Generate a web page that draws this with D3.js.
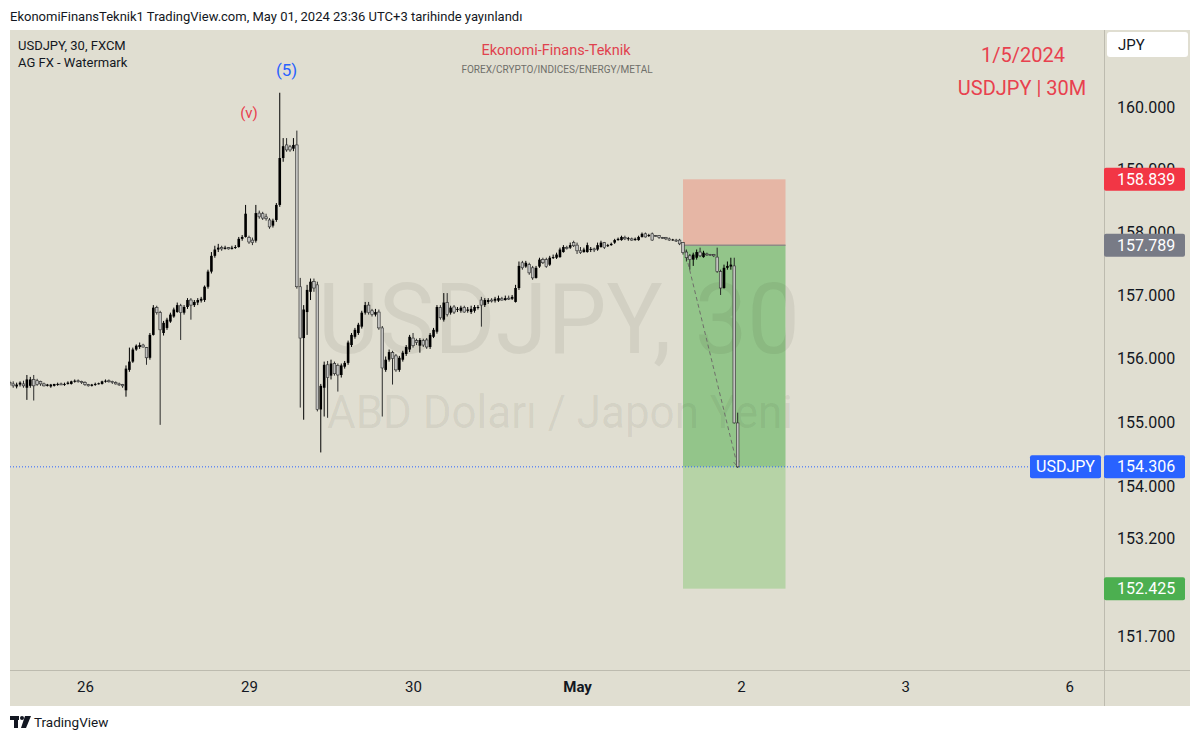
<!DOCTYPE html>
<html lang="tr">
  <head>
    <meta charset="UTF-8" />
    <title>USDJPY, 30, FXCM</title>
    <script src="https://d3js.org/d3.v7.min.js"></script>
    <style>
      body {
        margin: 0;
        background: #fff;
        font-family: Roboto, 'Noto Sans', Arial, sans-serif;
      }
      .axis text {
        font-family: Roboto, 'Noto Sans', Arial, sans-serif;
        fill: #131722;
      }
      .axis path,
      .axis line {
        stroke: none;
      }
    </style>
  </head>
  <body>
    <div id="chart"></div>

    <script>
      // 30 minute bars, [open, high, low, close], UTC+3
      // Apr 25 from 13:00
      const apr25 = [
        [155.62, 155.65, 155.57, 155.6], [155.6, 155.64, 155.54, 155.57],
        [155.56, 155.62, 155.53, 155.59], [155.59, 155.64, 155.56, 155.62],
        [155.6, 155.65, 155.54, 155.57], [155.54, 155.74, 155.35, 155.67],
        [155.57, 155.71, 155.54, 155.67], [155.67, 155.74, 155.34, 155.57],
        [155.65, 155.68, 155.57, 155.59], [155.64, 155.65, 155.57, 155.6],
        [155.6, 155.62, 155.56, 155.57], [155.57, 155.6, 155.56, 155.59],
        [155.56, 155.6, 155.54, 155.59], [155.57, 155.6, 155.56, 155.6],
        [155.59, 155.62, 155.57, 155.6], [155.6, 155.62, 155.59, 155.59],
        [155.59, 155.62, 155.57, 155.6], [155.6, 155.64, 155.59, 155.62],
        [155.6, 155.65, 155.59, 155.64], [155.64, 155.67, 155.62, 155.65],
        [155.65, 155.67, 155.62, 155.64], [155.64, 155.65, 155.6, 155.62],
      ];
      const apr26 = [
        [155.62, 155.64, 155.57, 155.59], [155.59, 155.6, 155.56, 155.57],
        [155.57, 155.6, 155.56, 155.59], [155.59, 155.62, 155.57, 155.6],
        [155.6, 155.62, 155.59, 155.61], [155.6, 155.65, 155.59, 155.64],
        [155.64, 155.67, 155.62, 155.65], [155.65, 155.67, 155.62, 155.64],
        [155.64, 155.65, 155.6, 155.62], [155.62, 155.64, 155.59, 155.6],
        [155.6, 155.62, 155.57, 155.59], [155.59, 155.6, 155.54, 155.57],
        [155.5, 155.89, 155.4, 155.84], [155.82, 156.17, 155.79, 155.95],
        [155.95, 156.17, 155.93, 156.14], [156.14, 156.22, 156.12, 156.2],
        [156.18, 156.25, 156.15, 156.21], [156.21, 156.23, 156.17, 156.18],
        [156.17, 156.18, 155.9, 156.01], [156.01, 156.4, 155.98, 156.37],
        [156.37, 156.84, 156.36, 156.8], [156.8, 156.83, 156.69, 156.72],
        [156.72, 156.75, 154.96, 156.45], [156.4, 156.59, 156.36, 156.56],
        [156.48, 156.64, 156.45, 156.61], [156.58, 156.72, 156.56, 156.69],
        [156.66, 156.8, 156.64, 156.77], [156.73, 156.88, 156.72, 156.84],
        [156.83, 156.86, 156.29, 156.72], [156.72, 156.84, 156.69, 156.81],
        [156.81, 156.95, 156.78, 156.92], [156.92, 156.95, 156.61, 156.84],
        [156.84, 156.92, 156.81, 156.89], [156.88, 156.95, 156.84, 156.92],
        [156.91, 156.97, 156.88, 156.94], [156.92, 157.15, 156.89, 157.13],
        [157.13, 157.4, 157.1, 157.37], [157.37, 157.68, 157.34, 157.62],
        [157.62, 157.78, 157.59, 157.72], [157.72, 157.81, 157.68, 157.75],
        [157.75, 157.78, 157.7, 157.73], [157.73, 157.78, 157.72, 157.75],
        [157.75, 157.76, 157.72, 157.73], [157.73, 157.78, 157.72, 157.75],
        [157.75, 157.79, 157.73, 157.76], [157.76, 157.92, 157.75, 157.89],
        [157.89, 157.95, 157.86, 157.92], [157.92, 158.43, 157.91, 158.29],
      ];
      const apr29 = [
        [157.91, 157.94, 157.81, 157.84], [157.87, 157.91, 157.79, 157.83],
        [157.86, 158.43, 157.83, 158.3], [158.3, 158.34, 158.21, 158.24],
        [158.29, 158.32, 158.19, 158.22], [158.24, 158.29, 158.18, 158.21],
        [158.19, 158.22, 158.05, 158.08], [158.1, 158.21, 158.07, 158.18],
        [158.19, 158.46, 158.16, 158.43], [158.43, 160.23, 158.4, 159.18],
        [159.18, 159.5, 159.12, 159.37], [159.39, 159.5, 159.28, 159.31],
        [159.36, 159.39, 159.28, 159.31], [159.33, 159.5, 159.29, 159.39],
        [159.39, 159.62, 157.1, 157.13], [157.13, 157.27, 155.23, 156.32],
        [156.32, 156.84, 155.04, 156.77], [156.73, 157.16, 156.37, 157.08],
        [157.05, 157.26, 156.92, 157.21], [157.21, 157.26, 157.05, 157.11],
        [157.16, 157.21, 155.17, 155.2], [155.2, 155.6, 154.53, 155.57],
        [155.54, 155.95, 155.09, 155.9], [155.9, 155.96, 155.07, 155.7],
        [155.73, 155.98, 155.67, 155.92], [155.92, 155.95, 155.73, 155.76],
        [155.89, 155.92, 155.48, 155.74], [155.74, 155.92, 155.7, 155.89],
        [155.87, 155.96, 155.84, 155.93], [155.93, 156.28, 155.9, 156.25],
        [156.21, 156.4, 156.18, 156.37], [156.34, 156.48, 156.31, 156.45],
        [156.4, 156.56, 156.37, 156.53], [156.5, 156.75, 156.47, 156.72],
        [156.72, 156.89, 156.69, 156.84], [156.84, 156.89, 156.69, 156.72],
        [156.75, 156.78, 156.66, 156.69], [156.69, 156.78, 156.66, 156.73],
        [156.73, 156.77, 156.45, 156.48], [156.48, 156.51, 155.09, 155.85],
        [155.82, 156.03, 155.79, 155.98], [155.98, 156.14, 155.95, 156.1],
        [156.09, 156.12, 155.59, 156.0], [156.04, 156.07, 155.79, 155.82],
        [155.82, 156.04, 155.79, 156.01], [155.98, 156.12, 155.95, 156.09],
        [156.07, 156.21, 156.04, 156.18], [156.14, 156.37, 156.1, 156.34],
      ];
      const apr30 = [
        [156.32, 156.4, 156.17, 156.2], [156.28, 156.31, 156.21, 156.25],
        [156.2, 156.32, 156.09, 156.29], [156.28, 156.31, 156.18, 156.21],
        [156.29, 156.32, 156.15, 156.18], [156.18, 156.4, 156.15, 156.37],
        [156.34, 156.48, 156.32, 156.45], [156.42, 156.84, 156.39, 156.81],
        [156.8, 156.84, 156.61, 156.64], [156.61, 157.03, 156.58, 156.88],
        [156.88, 157.03, 156.66, 156.69], [156.72, 156.83, 156.69, 156.8],
        [156.81, 156.84, 156.7, 156.73], [156.77, 156.81, 156.73, 156.78],
        [156.75, 156.83, 156.72, 156.8], [156.8, 156.83, 156.72, 156.73],
        [156.75, 156.81, 156.72, 156.77], [156.73, 156.83, 156.7, 156.78],
        [156.75, 156.84, 156.72, 156.81], [156.8, 156.84, 156.77, 156.81],
        [156.92, 156.97, 156.5, 156.84], [156.84, 156.95, 156.81, 156.92],
        [156.89, 156.95, 156.86, 156.92], [156.92, 156.95, 156.88, 156.91],
        [156.91, 156.97, 156.88, 156.94], [156.91, 156.99, 156.89, 156.95],
        [156.94, 156.97, 156.91, 156.92], [156.92, 156.99, 156.91, 156.95],
        [156.95, 156.99, 156.92, 156.94], [156.94, 157.0, 156.92, 156.97],
        [156.89, 157.16, 156.88, 157.11], [157.11, 157.53, 157.08, 157.46],
        [157.51, 157.54, 157.4, 157.43], [157.45, 157.54, 157.43, 157.51],
        [157.48, 157.51, 157.32, 157.35], [157.43, 157.46, 157.24, 157.27],
        [157.27, 157.46, 157.26, 157.43], [157.45, 157.59, 157.43, 157.56],
        [157.56, 157.59, 157.49, 157.51], [157.56, 157.59, 157.43, 157.45],
        [157.48, 157.62, 157.46, 157.59], [157.59, 157.64, 157.57, 157.6],
        [157.59, 157.67, 157.57, 157.64], [157.6, 157.75, 157.59, 157.72],
        [157.68, 157.79, 157.67, 157.76], [157.75, 157.78, 157.72, 157.74],
        [157.75, 157.83, 157.73, 157.79], [157.83, 157.86, 157.76, 157.78],
      ];
      const may1 = [
        [157.79, 157.83, 157.65, 157.7], [157.7, 157.76, 157.65, 157.67],
        [157.68, 157.75, 157.67, 157.72], [157.68, 157.83, 157.67, 157.79],
        [157.72, 157.76, 157.68, 157.73], [157.73, 157.75, 157.68, 157.72],
        [157.72, 157.83, 157.7, 157.79], [157.76, 157.86, 157.75, 157.83],
        [157.83, 157.84, 157.73, 157.75], [157.78, 157.81, 157.76, 157.79],
        [157.79, 157.83, 157.78, 157.81], [157.83, 157.89, 157.81, 157.87],
        [157.87, 157.91, 157.86, 157.89], [157.87, 157.94, 157.86, 157.92],
        [157.91, 157.94, 157.87, 157.89], [157.89, 157.92, 157.86, 157.9],
        [157.89, 157.91, 157.86, 157.87], [157.87, 157.91, 157.86, 157.89],
        [157.87, 157.94, 157.86, 157.92], [157.92, 157.99, 157.91, 157.97],
        [157.97, 157.99, 157.91, 157.92], [157.94, 157.97, 157.92, 157.95],
        [157.97, 157.99, 157.86, 157.87], [157.94, 157.95, 157.92, 157.93],
        [157.94, 157.95, 157.89, 157.91], [157.91, 157.92, 157.89, 157.9],
        [157.91, 157.92, 157.87, 157.89], [157.89, 157.91, 157.86, 157.87],
        [157.87, 157.89, 157.86, 157.88], [157.87, 157.89, 157.84, 157.86],
        [157.87, 157.89, 157.79, 157.81], [157.83, 157.84, 157.64, 157.67],
        [157.68, 157.72, 157.53, 157.59], [157.62, 157.65, 157.4, 157.56],
        [157.56, 157.67, 157.46, 157.64], [157.59, 157.72, 157.56, 157.68],
        [157.68, 157.75, 157.6, 157.62], [157.6, 157.7, 157.59, 157.67],
        [157.65, 157.67, 157.62, 157.64], [157.64, 157.65, 157.62, 157.63],
        [157.64, 157.65, 157.6, 157.62], [157.6, 157.75, 157.35, 157.37],
        [157.37, 157.4, 157.0, 157.11], [157.11, 157.48, 157.1, 157.43],
        [157.43, 157.53, 157.4, 157.46], [157.45, 157.59, 157.4, 157.48],
        [157.46, 157.59, 154.98, 154.99], [154.99, 155.15, 154.29, 154.306],
      ];

      const dayLabels = ['26', '29', '30', 'May', '2', '3', '6'];
      const priceTicks = [160, 159, 158, 157, 156, 155, 154, 153.2, 151.7];

      // short position tool
      const entryPrice = 157.789,
        stopPrice = 158.839,
        targetPrice = 152.425,
        lastPrice = 154.306;
      const positionBars = [197, 227];

      const waveLabels = [
        { text: '(5)', bar: 81, price: 160.6, color: '#2962ff' },
        { text: '(v)', bar: 70, price: 159.9, color: '#e8414e' },
      ];

      const W = 1200,
        H = 741;
      const pane = { left: 10, right: 1104, top: 30, bottom: 670 };
      const bg = '#e0ded1';

      const bars = [...apr25, ...apr26, ...apr29, ...apr30, ...may1];

      // day boundaries in bar units (future days: 48 bars each)
      const dayStarts = [];
      let pos = apr25.length;
      [apr26, apr29, apr30, may1, null, null].forEach((d) => {
        dayStarts.push(pos);
        pos += d ? d.length : 48;
      });
      dayStarts.push(pos);

      const x = d3.scaleLinear().domain([0, 320.2]).range([9.8, 1104]);
      const y = d3.scaleLog().domain([151.7, 160]).range([636, 107]);

      const svg = d3
        .select('#chart')
        .append('svg')
        .attr('width', W)
        .attr('height', H);

      // header line
      svg
        .append('text')
        .attr('x', 10)
        .attr('y', 21)
        .attr('font-size', 13)
        .attr('fill', '#131722')
        .text(
          'EkonomiFinansTeknik1 TradingView.com, May 01, 2024 23:36 UTC+3 tarihinde yayınlandı',
        );

      svg
        .append('rect')
        .attr('x', 10)
        .attr('y', 30)
        .attr('width', 1180)
        .attr('height', 676)
        .attr('fill', bg);

      svg
        .append('clipPath')
        .attr('id', 'pane')
        .append('rect')
        .attr('x', pane.left)
        .attr('y', pane.top)
        .attr('width', pane.right - pane.left)
        .attr('height', pane.bottom - pane.top);

      const plot = svg.append('g').attr('clip-path', 'url(#pane)');

      // position zones
      const px0 = x(positionBars[0]),
        px1 = x(positionBars[1]);
      plot
        .append('rect')
        .attr('x', px0)
        .attr('width', px1 - px0)
        .attr('y', y(stopPrice))
        .attr('height', y(entryPrice) - y(stopPrice))
        .attr('fill', '#e6b6a5');
      plot
        .append('rect')
        .attr('x', px0)
        .attr('width', px1 - px0)
        .attr('y', y(entryPrice))
        .attr('height', y(lastPrice) - y(entryPrice))
        .attr('fill', '#93c58a');
      plot
        .append('rect')
        .attr('x', px0)
        .attr('width', px1 - px0)
        .attr('y', y(lastPrice))
        .attr('height', y(targetPrice) - y(lastPrice))
        .attr('fill', '#b6d3a6');
      plot
        .append('line')
        .attr('x1', px0)
        .attr('x2', px1)
        .attr('y1', y(entryPrice))
        .attr('y2', y(entryPrice))
        .attr('stroke', '#8c8c86')
        .attr('stroke-width', 1.5);

      // watermark (translucent, shows through the zones)
      const mark = plot
        .append('g')
        .attr('fill', '#2a2a1a')
        .attr('fill-opacity', 0.075)
        .attr('text-anchor', 'middle');
      mark
        .append('text')
        .attr('x', 559)
        .attr('y', 353)
        .attr('font-size', 98)
        .attr('textLength', 482)
        .attr('lengthAdjust', 'spacingAndGlyphs')
        .text('USDJPY, 30');
      mark
        .append('text')
        .attr('x', 560)
        .attr('y', 428)
        .attr('font-size', 46)
        .attr('textLength', 466)
        .attr('lengthAdjust', 'spacingAndGlyphs')
        .text('ABD Doları / Japon Yeni');

      // current price line
      plot
        .append('line')
        .attr('x1', pane.left)
        .attr('x2', 1030)
        .attr('y1', y(lastPrice))
        .attr('y2', y(lastPrice))
        .attr('stroke', '#2962ff')
        .attr('stroke-dasharray', '1,2');

      // dashed arrow entry -> last close
      svg
        .append('defs')
        .append('marker')
        .attr('id', 'arrow')
        .attr('viewBox', '0 0 10 10')
        .attr('refX', 9)
        .attr('refY', 5)
        .attr('markerWidth', 7)
        .attr('markerHeight', 7)
        .attr('orient', 'auto')
        .append('path')
        .attr('d', 'M1,1 L9,5 L1,9')
        .attr('fill', 'none')
        .attr('stroke', '#6f6f6a')
        .attr('stroke-width', 1.2);
      const last = bars.length - 1;
      plot
        .append('line')
        .attr('x1', x(positionBars[0]))
        .attr('y1', y(bars[positionBars[0]][0]))
        .attr('x2', x(last))
        .attr('y2', y(lastPrice))
        .attr('stroke', '#6f6f6a')
        .attr('stroke-width', 1)
        .attr('stroke-dasharray', '4,3')
        .attr('marker-end', 'url(#arrow)');

      // candles
      const bw = 2.6;
      const up = (d) => d[3] >= d[0];
      const candles = plot
        .selectAll('.candle')
        .data(bars)
        .join('g')
        .attr('class', 'candle');
      candles
        .append('line')
        .attr('x1', (d, i) => x(i))
        .attr('x2', (d, i) => x(i))
        .attr('y1', (d) => y(d[1]))
        .attr('y2', (d) => y(d[2]))
        .attr('stroke', (d) => (up(d) ? '#000' : '#2b2b2b'))
        .attr('stroke-width', 1);
      candles
        .append('rect')
        .attr('x', (d, i) => x(i) - bw / 2)
        .attr('width', bw)
        .attr('y', (d) => y(Math.max(d[0], d[3])))
        .attr('height', (d) =>
          Math.max(1, Math.abs(y(d[0]) - y(d[3]))),
        )
        .attr('fill', (d) => (up(d) ? '#000' : '#c2c2c0'))
        .attr('stroke', (d) => (up(d) ? 'none' : '#2b2b2b'))
        .attr('stroke-width', 0.6);

      // wave labels
      waveLabels.forEach((w) => {
        plot
          .append('text')
          .attr('x', x(w.bar))
          .attr('y', y(w.price))
          .attr('dy', '0.35em')
          .attr('text-anchor', 'middle')
          .attr('font-size', w.text === '(5)' ? 17 : 15)
          .attr('fill', w.color)
          .text(w.text);
      });

      // pane texts
      svg
        .append('text')
        .attr('x', 18)
        .attr('y', 50)
        .attr('font-size', 13)
        .attr('fill', '#131722')
        .text('USDJPY, 30, FXCM');
      svg
        .append('text')
        .attr('x', 18)
        .attr('y', 67)
        .attr('font-size', 13)
        .attr('fill', '#131722')
        .text('AG FX - Watermark');
      svg
        .append('text')
        .attr('x', 556)
        .attr('y', 55)
        .attr('text-anchor', 'middle')
        .attr('font-size', 14.5)
        .attr('fill', '#e0424e')
        .text('Ekonomi-Finans-Teknik');
      svg
        .append('text')
        .attr('x', 557)
        .attr('y', 73)
        .attr('text-anchor', 'middle')
        .attr('font-size', 10)
        .attr('fill', '#6f6f6a')
        .text('FOREX/CRYPTO/INDICES/ENERGY/METAL');
      svg
        .append('text')
        .attr('x', 1023)
        .attr('y', 62)
        .attr('text-anchor', 'middle')
        .attr('font-size', 20)
        .attr('fill', '#e8414e')
        .text('1/5/2024');
      svg
        .append('text')
        .attr('x', 1022)
        .attr('y', 95)
        .attr('text-anchor', 'middle')
        .attr('font-size', 20)
        .attr('fill', '#e8414e')
        .text('USDJPY | 30M');

      // separators
      svg
        .append('line')
        .attr('x1', 1104.5)
        .attr('x2', 1104.5)
        .attr('y1', 30)
        .attr('y2', 706)
        .attr('stroke', '#bdbbaf');
      svg
        .append('line')
        .attr('x1', 10)
        .attr('x2', 1190)
        .attr('y1', 670.5)
        .attr('y2', 670.5)
        .attr('stroke', '#bdbbaf');

      // price axis
      svg
        .append('g')
        .attr('class', 'axis')
        .attr('transform', `translate(${pane.right},0)`)
        .call(
          d3
            .axisRight(y)
            .tickValues(priceTicks)
            .tickFormat(d3.format('.3f'))
            .tickSize(0)
            .tickPadding(13),
        )
        .selectAll('text')
        .attr('font-size', 16);

      // time axis
      svg
        .append('g')
        .attr('class', 'axis')
        .attr('transform', `translate(0,${pane.bottom})`)
        .call(
          d3
            .axisBottom(x)
            .tickValues(dayStarts)
            .tickFormat((d, i) => dayLabels[i])
            .tickSize(0)
            .tickPadding(11),
        )
        .selectAll('text')
        .attr('font-size', 15)
        .attr('font-weight', (d, i) =>
          dayLabels[i] === 'May' ? 'bold' : 'normal',
        );

      // JPY currency box
      svg
        .append('rect')
        .attr('x', 1107)
        .attr('y', 32)
        .attr('width', 81)
        .attr('height', 25)
        .attr('rx', 3)
        .attr('fill', '#fff');
      svg
        .append('text')
        .attr('x', 1118)
        .attr('y', 44.5)
        .attr('dy', '0.35em')
        .attr('font-size', 15)
        .attr('fill', '#131722')
        .text('JPY');

      // price tags on the axis
      function priceTag(price, color) {
        const yy = y(price);
        svg
          .append('rect')
          .attr('x', 1104)
          .attr('y', yy - 11.5)
          .attr('width', 81)
          .attr('height', 23)
          .attr('rx', 2)
          .attr('fill', color);
        svg
          .append('text')
          .attr('x', 1117)
          .attr('y', yy)
          .attr('dy', '0.35em')
          .attr('font-size', 16)
          .attr('fill', '#fff')
          .text(d3.format('.3f')(price));
      }
      priceTag(stopPrice, '#f23645');
      priceTag(entryPrice, '#787b86');
      priceTag(targetPrice, '#4caf50');
      priceTag(lastPrice, '#2962ff');

      svg
        .append('rect')
        .attr('x', 1030)
        .attr('y', y(lastPrice) - 11.5)
        .attr('width', 71)
        .attr('height', 23)
        .attr('rx', 2)
        .attr('fill', '#2962ff');
      svg
        .append('text')
        .attr('x', 1065.5)
        .attr('y', y(lastPrice))
        .attr('dy', '0.35em')
        .attr('text-anchor', 'middle')
        .attr('font-size', 16)
        .attr('fill', '#fff')
        .text('USDJPY');

      // footer
      const logo = svg.append('g').attr('fill', '#131722');
      logo.append('rect').attr('x', 10).attr('y', 716).attr('width', 9).attr('height', 4);
      logo.append('rect').attr('x', 14).attr('y', 716).attr('width', 4).attr('height', 12);
      logo.append('circle').attr('cx', 22).attr('cy', 718).attr('r', 2);
      logo.append('path').attr('d', 'M25,716 H31 L26,728 H21 Z');
      svg
        .append('text')
        .attr('x', 34)
        .attr('y', 727)
        .attr('font-size', 13.5)
        .attr('fill', '#131722')
        .text('TradingView');
    </script>
  </body>
</html>
